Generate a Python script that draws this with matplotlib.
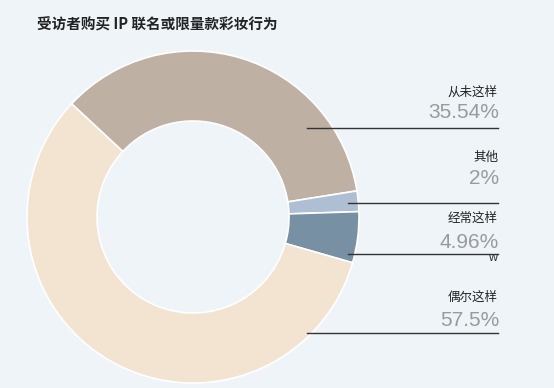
import matplotlib
matplotlib.use('Agg')
import matplotlib.pyplot as plt

plt.rcParams['font.family'] = ['Noto Sans CJK SC', 'DejaVu Sans']

title = '受访者购买 IP 联名或限量款彩妆行为'
categories = ['从未这样', '其他', '经常这样', '偶尔这样']
values = [35.54, 2, 4.96, 57.5]
pct_labels = ['35.54%', '2%', '4.96%', '57.5%']
colors = ['#BFB0A4', '#AEBFD4', '#7790A4', '#F3E3D1']

W, H = 554, 388
bg = '#EEF4F8'

fig = plt.figure(figsize=(W / 100, H / 100), dpi=100, facecolor=bg)
ax = fig.add_axes([0, 0, 1, 1])
ax.set_facecolor(bg)

def py(y):
    # pixel row from top -> data y
    return H - y

ax.pie(values, colors=colors, startangle=137, counterclock=False,
       center=(193, py(217)), radius=166, frame=True,
       wedgeprops=dict(width=70, edgecolor='white', linewidth=1.2))
ax.set_xlim(0, W)
ax.set_ylim(0, H)
ax.set_aspect('equal')
ax.axis('off')

fig.text(37 / W, 1 - 25 / H, title, fontsize=10.5, fontweight='bold',
         color='#222222', va='center', ha='left')

# label layout: name row, percent row, rule row, rule start x
name_y = [92, 157, 218, 297]
pct_y = [113, 178, 242, 320]
rule_y = [128, 203, 254, 333]
rule_x0 = [307, 348, 348, 307]
right_x = 498

for i, cat in enumerate(categories):
    ax.text(right_x, py(name_y[i]), cat, fontsize=9, color='#222222',
            ha='right', va='center')
    ax.text(right_x + 1, py(pct_y[i]), pct_labels[i], fontsize=15,
            color='#9A9A9A', ha='right', va='center',
            family=['Liberation Sans', 'DejaVu Sans'])
    ax.plot([rule_x0[i], right_x], [py(rule_y[i]), py(rule_y[i])],
            color='#333333', linewidth=1.0, zorder=5)

ax.text(493, py(258), 'w', fontsize=9, color='#333333', ha='center',
        va='center', family=['Liberation Sans', 'DejaVu Sans'])

fig.savefig('out.png', dpi=100, facecolor=bg)
